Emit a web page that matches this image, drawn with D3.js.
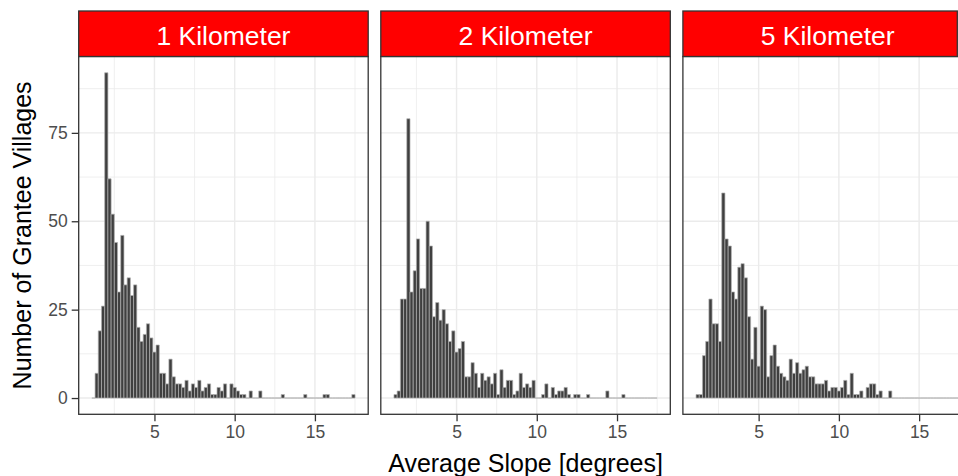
<!DOCTYPE html>
<html>
<head>
<meta charset="utf-8">
<script src="https://cdn.jsdelivr.net/npm/d3@7"></script>
<style>
  body { margin: 0; background: #fff; }
  svg { display: block; font-family: "Liberation Sans", Arial, sans-serif; }
</style>
</head>
<body>
<svg></svg>
<script>
// histogram bins: centres start at 1.2, width 0.2 (shared by all facets)
var binStart = 1.2, binWidth = 0.2;

var facetNames = ["1 Kilometer", "2 Kilometer", "5 Kilometer"];

var counts1km = [0, 7, 19, 26, 92, 62, 52, 44, 30, 46,
  32, 34, 29, 32, 20, 16, 18, 21, 17, 13,
  15, 7, 7, 4, 11, 6, 4, 4, 3, 5,
  2, 4, 3, 5, 2, 3, 4, 1, 1, 3,
  2, 4, 0, 4, 3, 2, 1, 1, 0, 2,
  0, 0, 2, 0, 0, 0, 0, 0, 0, 1,
  0, 0, 0, 0, 0, 0, 1, 0, 0, 0,
  0, 0, 1, 1, 0, 0, 0, 0, 0, 0,
  0, 1];

var counts2km = [1, 2, 28, 28, 79, 30, 36, 45, 31, 31,
  50, 43, 23, 27, 22, 25, 21, 16, 19, 13,
  14, 16, 6, 6, 10, 7, 3, 7, 5, 6,
  4, 7, 1, 8, 3, 5, 5, 1, 2, 7,
  3, 4, 3, 5, 0, 0, 1, 4, 0, 3,
  1, 2, 2, 3, 1, 0, 1, 1, 0, 0,
  1, 0, 0, 0, 0, 0, 2, 0, 0, 0,
  0, 1, 0, 0, 0, 0, 0, 0, 0, 0,
  0, 0];

var counts5km = [1, 1, 12, 16, 28, 21, 21, 16, 58, 45,
  43, 30, 28, 37, 38, 34, 23, 11, 20, 9,
  26, 25, 6, 12, 15, 9, 7, 6, 5, 11,
  7, 10, 7, 8, 9, 6, 6, 4, 4, 4,
  5, 2, 3, 3, 2, 3, 5, 1, 7, 1,
  1, 2, 0, 3, 4, 4, 1, 2, 0, 0,
  2, 0, 0, 0, 0, 0, 0, 0, 0, 0,
  0, 0, 0, 0, 0, 0, 0, 0, 0, 0,
  0, 0];

var xTicks = [5, 10, 15], xMinor = [2.5, 7.5, 12.5, 17.5];
var yTicks = [0, 25, 50, 75], yMinor = [12.5, 37.5, 62.5, 87.5];

var xTitle = "Average Slope [degrees]";
var yTitle = "Number of Grantee Villages";

function toBins(counts) {
  return counts.map(function(c, i) {
    var mid = binStart + i * binWidth;
    return { x0: mid - binWidth / 2, x1: mid + binWidth / 2, count: c };
  });
}

var facets = [counts1km, counts2km, counts5km].map(function(c, i) {
  return { name: facetNames[i], bins: toBins(c) };
});

drawChart(facets);

function drawChart(facets) {
  var svgWidth = 958, svgHeight = 476;
  var panelLeft = 78.7, panelTop = 56.5, panelBottom = 414.3;
  var panelWidth = 289.5, panelGap = 12.6;
  var stripTop = 11;
  var height = panelBottom - panelTop;

  var svg = d3.select("svg")
    .attr("width", svgWidth)
    .attr("height", svgHeight);

  // shared scales with ggplot-like 5% expansion
  var lo = binStart - binWidth / 2;
  var hi = binStart + (counts1km.length - 1) * binWidth + binWidth / 2;
  var padX = (hi - lo) * 0.05;
  var x = d3.scaleLinear().domain([lo - padX, hi + padX]).range([0, panelWidth]);

  var yMax = d3.max(facets, function(f) { return d3.max(f.bins, function(b) { return b.count; }); });
  var y = d3.scaleLinear().domain([-yMax * 0.05, yMax * 1.05]).range([height, 0]);

  facets.forEach(function(f, i) {
    var left = panelLeft + i * (panelWidth + panelGap);
    var g = svg.append("g")
      .attr("transform", "translate(" + left + "," + panelTop + ")");

    // grid
    g.selectAll(".gminx").data(xMinor).enter().append("line")
      .attr("x1", function(d) { return x(d); }).attr("x2", function(d) { return x(d); })
      .attr("y1", 0).attr("y2", height)
      .attr("stroke", "#ebebeb").attr("stroke-width", 0.8);
    g.selectAll(".gminy").data(yMinor).enter().append("line")
      .attr("x1", 0).attr("x2", panelWidth)
      .attr("y1", function(d) { return y(d); }).attr("y2", function(d) { return y(d); })
      .attr("stroke", "#ebebeb").attr("stroke-width", 0.8);
    g.selectAll(".gmajx").data(xTicks).enter().append("line")
      .attr("x1", function(d) { return x(d); }).attr("x2", function(d) { return x(d); })
      .attr("y1", 0).attr("y2", height)
      .attr("stroke", "#ebebeb").attr("stroke-width", 1.4);
    g.selectAll(".gmajy").data(yTicks).enter().append("line")
      .attr("x1", 0).attr("x2", panelWidth)
      .attr("y1", function(d) { return y(d); }).attr("y2", function(d) { return y(d); })
      .attr("stroke", "#ebebeb").attr("stroke-width", 1.4);

    // bars (paths so that empty bins still show their outline)
    g.selectAll(".bar").data(f.bins).enter().append("path")
      .attr("d", function(d) {
        return "M" + x(d.x0) + "," + y(0) + "V" + y(d.count) +
          "H" + x(d.x1) + "V" + y(0) + "Z";
      })
      .attr("fill", "#3f3f3f")
      .attr("stroke", "#b0b0b0")
      .attr("stroke-width", 0.7);

    // x axis
    var xa = g.append("g")
      .attr("transform", "translate(0," + height + ")")
      .call(d3.axisBottom(x).tickValues(xTicks).tickSize(7).tickPadding(4));
    xa.select(".domain").remove();
    xa.selectAll("line").attr("stroke", "#333").attr("stroke-width", 1.3);
    xa.selectAll("text").attr("fill", "#4d4d4d").style("font-size", "17.5px")
      .style("font-family", "'Liberation Sans', Arial, sans-serif");

    if (i === 0) {
      var ya = g.append("g")
        .call(d3.axisLeft(y).tickValues(yTicks).tickSize(7).tickPadding(4));
      ya.select(".domain").remove();
      ya.selectAll("line").attr("stroke", "#333").attr("stroke-width", 1.3);
      ya.selectAll("text").attr("fill", "#4d4d4d").style("font-size", "17.5px")
        .style("font-family", "'Liberation Sans', Arial, sans-serif");
    }

    // panel border
    g.append("rect")
      .attr("width", panelWidth).attr("height", height)
      .attr("fill", "none").attr("stroke", "#333").attr("stroke-width", 1.3);

    // strip
    var stripW = Math.min(panelWidth, svgWidth - 0.7 - left);
    svg.append("rect")
      .attr("x", left).attr("y", stripTop)
      .attr("width", stripW).attr("height", panelTop - stripTop)
      .attr("fill", "#ff0000").attr("stroke", "#333").attr("stroke-width", 1.3);
    svg.append("text")
      .attr("x", left + panelWidth / 2).attr("y", 44.8)
      .attr("text-anchor", "middle")
      .attr("fill", "#fff")
      .style("font-size", "26.5px")
      .text(f.name);
  });

  // axis titles
  var allRight = panelLeft + 3 * panelWidth + 2 * panelGap;
  svg.append("text")
    .attr("x", (panelLeft + allRight) / 2).attr("y", 471.5)
    .attr("text-anchor", "middle")
    .attr("fill", "#000")
    .style("font-size", "25px")
    .text(xTitle);

  svg.append("text")
    .attr("transform", "translate(31," + (panelTop + height / 2) + ")rotate(-90)")
    .attr("text-anchor", "middle")
    .attr("fill", "#000")
    .style("font-size", "25px")
    .text(yTitle);
}
</script>
</body>
</html>
